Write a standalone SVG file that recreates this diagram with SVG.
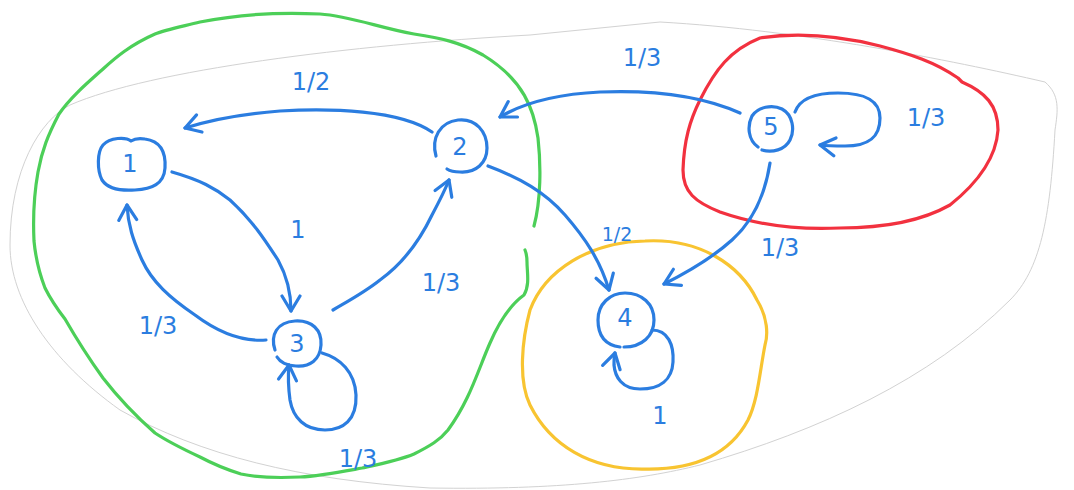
<svg xmlns="http://www.w3.org/2000/svg" width="1074" height="490" viewBox="0 0 1074 490">
<style>
.node{fill:none;stroke:#2b7de0;stroke-width:3.2;stroke-linecap:round;stroke-linejoin:round}
.edge{fill:none;stroke:#2b7de0;stroke-width:3.2;stroke-linecap:round;stroke-linejoin:round}
.lbl{font-family:"DejaVu Sans",sans-serif;font-size:24px;fill:#2b7de0;text-anchor:middle;dominant-baseline:central}
.nlbl{font-family:"DejaVu Sans",sans-serif;font-size:24px;fill:#2b7de0;text-anchor:middle;dominant-baseline:central}
.grp{fill:none;stroke-width:3.2;stroke-linecap:round;stroke-linejoin:round}
</style>
<defs>
<marker id="arr" markerUnits="userSpaceOnUse" viewBox="0 0 22 22" markerWidth="22" markerHeight="22" refX="19" refY="11" orient="auto">
<path d="M4,2 L19,11 L4,20" fill="none" stroke="#2b7de0" stroke-width="3.2" stroke-linecap="round" stroke-linejoin="round"/>
</marker>
</defs>
<rect width="1074" height="490" fill="#ffffff"/>
<g id="outline">
<path d="M10,245 C10,170 40,120 70,105 C150,70 350,45 530,35 L660,22 C800,30 950,60 1045,82 C1060,95 1058,110 1055,130 C1050,220 1040,270 1010,300 C930,380 820,430 700,465 C640,480 560,490 430,488 C300,480 200,455 120,410 C50,360 10,300 10,245 Z" fill="none" stroke="#d2d2d2" stroke-width="1"/>
</g>
<g id="groups">
<path class="grp" stroke="#4ccf58" d="M534,226 C541,200 541,165 538,138 C534,110 524,80 483,55 C460,42 440,38 414,34 C380,28 350,16 320,14 C280,12 240,14 200,22 C180,27 165,30 155,34 C130,45 115,58 103,69 C85,85 70,98 59,114 C48,135 42,150 38,172 C33,200 33,220 34,241 C36,262 40,275 45,288 C52,302 58,310 65,319 C80,345 90,360 103,378 C120,400 138,418 155,433 C170,443 185,450 200,457 C215,465 228,470 241,474 C260,478 280,478 300,477 C320,476 340,472 362,468 C385,463 400,460 414,454 C430,446 440,440 448,430 C470,400 478,370 490,343 C500,320 510,305 524,295 C530,285 527,272 527,262 C527,255 525,250 525,250"/>
<path class="grp" stroke="#f2313f" d="M760,38 C800,32 840,36 880,46 C910,54 935,62 958,78 L962,82 C985,92 998,105 998,130 C996,160 975,185 950,205 C920,222 880,228 840,228 C800,230 760,226 720,212 C695,202 683,192 683,170 C684,140 690,120 700,100 C715,70 730,50 760,38 Z"/>
<path class="grp" stroke="#f8c431" d="M645,241 C700,238 740,265 757,300 C768,318 768,335 765,345 C760,370 758,400 748,420 C732,450 700,470 645,469 C590,470 550,445 530,405 C518,380 522,340 530,310 C545,270 590,242 645,241 Z"/>
</g>
<g id="connectors">
<path class="edge" d="M432,132 C400,110 330,108 280,111 C240,114 210,120 185,128" marker-end="url(#arr)"/>
<path class="edge" d="M172,172 C200,180 215,188 230,200 C252,220 265,240 278,260 C288,278 291,295 291,311" marker-end="url(#arr)"/>
<path class="edge" d="M266,340 C240,342 215,330 195,315 C170,298 152,282 142,260 C133,240 128,225 127,205" marker-end="url(#arr)"/>
<path class="edge" d="M333,310 C350,300 365,292 380,280 C405,262 420,240 432,215 C440,200 445,190 449,180" marker-end="url(#arr)"/>
<path class="edge" d="M322,353 C340,358 355,372 356,395 C357,420 343,430 325,430 C305,430 293,418 290,400 C288,385 288,375 289,365" marker-end="url(#arr)"/>
<path class="edge" d="M488,166 C520,178 545,192 565,215 C585,238 600,260 609,290" marker-end="url(#arr)"/>
<path class="edge" d="M740,113 C700,95 650,90 600,92 C560,94 525,102 500,117" marker-end="url(#arr)"/>
<path class="edge" d="M795,112 C800,98 815,93 838,93 C865,93 880,100 880,118 C880,138 868,146 845,146 C835,146 828,146 820,145" marker-end="url(#arr)"/>
<path class="edge" d="M770,163 C765,195 752,222 732,240 C712,258 688,272 664,284" marker-end="url(#arr)"/>
<path class="edge" d="M652,330 C668,330 674,345 673,362 C672,380 660,389 640,389 C622,389 615,377 614,365 C614,360 614,357 615,353" marker-end="url(#arr)"/>
</g>
<g id="node1">
<path class="node" d="M131,141 C126,137 110,137 103,145 C97,152 97,170 102,180 C108,189 120,191 135,190 C152,189 164,184 165,168 C166,152 160,141 145,139 C139,138 134,139 131,141 Z"/>
<text class="nlbl" x="130" y="164">1</text>
</g>
<g id="node2">
<path class="node" d="M436,156 C431,138 440,122 458,120 C476,118 487,132 487,148 C487,163 476,173 460,172 C455,172 450,171 447,169"/>
<text class="nlbl" x="460" y="147">2</text>
</g>
<g id="node3">
<path class="node" d="M275,350 C270,335 277,322 295,321 C312,320 322,330 321,345 C320,360 310,367 296,366 C287,366 280,362 277,357"/>
<text class="nlbl" x="297" y="344">3</text>
</g>
<g id="node4">
<path class="node" d="M620,347 C605,345 598,335 598,320 C598,304 610,293 625,293 C642,293 654,304 654,320 C654,336 642,347 624,347"/>
<text class="nlbl" x="625" y="318">4</text>
</g>
<g id="node5">
<path class="node" d="M758,147 C748,140 747,126 752,116 C758,107 772,104 782,109 C793,115 795,130 790,140 C785,150 772,153 762,150"/>
<text class="nlbl" x="771" y="127">5</text>
</g>
<g id="labels">
<text class="lbl" x="311" y="82">1/2</text>
<text class="lbl" x="298" y="230">1</text>
<text class="lbl" x="158" y="326">1/3</text>
<text class="lbl" x="441" y="283">1/3</text>
<text class="lbl" x="358" y="459">1/3</text>
<text class="lbl" x="642" y="58">1/3</text>
<text class="lbl" x="926" y="118">1/3</text>
<text class="lbl" x="617" y="234" style="font-size:19px">1/2</text>
<text class="lbl" x="780" y="248">1/3</text>
<text class="lbl" x="660" y="416">1</text>
</g>
</svg>
